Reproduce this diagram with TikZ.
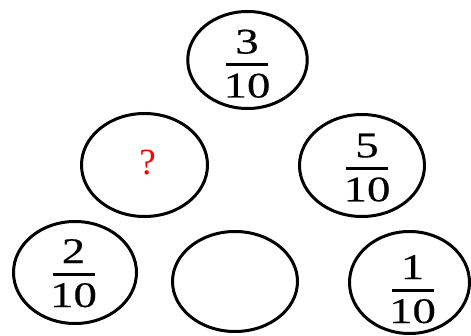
\documentclass[tikz,border=0pt]{standalone}
\usepackage{fontspec}
\setmainfont{Liberation Serif}
\newfontfamily\wideserif[FakeStretch=1.3,FakeBold=0.4]{Liberation Serif}
\usetikzlibrary{shapes.geometric}
\tikzset{
  oval/.style={ellipse, draw=black, line width=3pt, inner sep=0pt},
  digit/.style={anchor=base, inner sep=0pt, font=\wideserif\fontsize{36}{42}\selectfont},
  fracbar/.style={line width=3pt},
  qmark/.style={inner sep=0pt, text=red, font=\fontsize{37}{42}\selectfont}
}
\begin{document}
\begin{tikzpicture}[x=1pt,y=1pt]
\useasboundingbox (0,0) rectangle (471,335);
% ellipses
\node[oval, minimum width=119.5pt, minimum height=97pt] (top) at (247.5,275) {};
\node[oval, minimum width=126pt, minimum height=103pt] (midL) at (144.5,170) {};
\node[oval, minimum width=125pt, minimum height=102pt] (midR) at (362,169.5) {};
\node[oval, minimum width=123pt, minimum height=102pt] (botL) at (75,62.5) {};
\node[oval, minimum width=125pt, minimum height=100pt] (botM) at (235,53.5) {};
\node[oval, minimum width=120pt, minimum height=102pt] (botR) at (409.5,52.5) {};
% question mark
\node[qmark] (q) at (147.5,172) {?};
% fraction 3/10
\node[digit] (n1) at (247,281.5) {3};
\node[digit] (d1) at (247,237.5) {10};
\coordinate (b1l) at (226,270.5); \coordinate (b1r) at (268,270.5);
\draw[fracbar] (b1l) -- (b1r);
% fraction 5/10
\node[digit] (n2) at (367,177.7) {5};
\node[digit] (d2) at (367,133.7) {10};
\coordinate (b2l) at (346,166.7); \coordinate (b2r) at (388,166.7);
\draw[fracbar] (b2l) -- (b2r);
% fraction 2/10
\node[digit] (n3) at (73.5,72) {2};
\node[digit] (d3) at (73.5,28) {10};
\coordinate (b3l) at (52.5,61); \coordinate (b3r) at (94.5,61);
\draw[fracbar] (b3l) -- (b3r);
% fraction 1/10
\node[digit] (n4) at (412.5,56) {1};
\node[digit] (d4) at (412.5,12) {10};
\coordinate (b4l) at (391.5,45); \coordinate (b4r) at (433.5,45);
\draw[fracbar] (b4l) -- (b4r);
\end{tikzpicture}
\end{document}
